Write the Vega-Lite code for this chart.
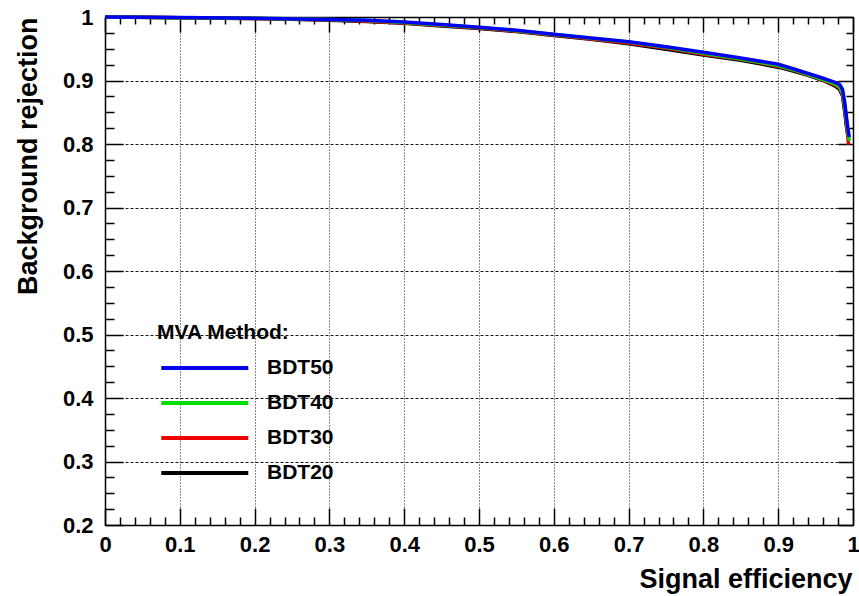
{
  "$schema": "https://vega.github.io/schema/vega-lite/v6.json",
  "width": 748,
  "height": 508,
  "autosize": "none",
  "padding": {"left": 105, "top": 17, "right": 6, "bottom": 71},
  "background": "white",
  "datasets": {
    "roc": [
      {"method": "BDT20", "eff": 0, "rej": 1.0},
      {"method": "BDT20", "eff": 0.05, "rej": 0.9995},
      {"method": "BDT20", "eff": 0.1, "rej": 0.999},
      {"method": "BDT20", "eff": 0.15, "rej": 0.998},
      {"method": "BDT20", "eff": 0.2, "rej": 0.9975},
      {"method": "BDT20", "eff": 0.25, "rej": 0.9965},
      {"method": "BDT20", "eff": 0.3, "rej": 0.995},
      {"method": "BDT20", "eff": 0.35, "rej": 0.993},
      {"method": "BDT20", "eff": 0.4, "rej": 0.99},
      {"method": "BDT20", "eff": 0.45, "rej": 0.986},
      {"method": "BDT20", "eff": 0.5, "rej": 0.982},
      {"method": "BDT20", "eff": 0.55, "rej": 0.977},
      {"method": "BDT20", "eff": 0.6, "rej": 0.971},
      {"method": "BDT20", "eff": 0.65, "rej": 0.965},
      {"method": "BDT20", "eff": 0.7, "rej": 0.958},
      {"method": "BDT20", "eff": 0.75, "rej": 0.949},
      {"method": "BDT20", "eff": 0.8, "rej": 0.94},
      {"method": "BDT20", "eff": 0.85, "rej": 0.932},
      {"method": "BDT20", "eff": 0.9, "rej": 0.921},
      {"method": "BDT20", "eff": 0.92, "rej": 0.915},
      {"method": "BDT20", "eff": 0.94, "rej": 0.908},
      {"method": "BDT20", "eff": 0.96, "rej": 0.9},
      {"method": "BDT20", "eff": 0.975, "rej": 0.892},
      {"method": "BDT20", "eff": 0.982, "rej": 0.886},
      {"method": "BDT20", "eff": 0.986, "rej": 0.876},
      {"method": "BDT20", "eff": 0.989, "rej": 0.85},
      {"method": "BDT20", "eff": 0.991, "rej": 0.83},
      {"method": "BDT20", "eff": 0.993, "rej": 0.815},
      {"method": "BDT20", "eff": 0.994, "rej": 0.808},
      {"method": "BDT30", "eff": 0, "rej": 1.0},
      {"method": "BDT30", "eff": 0.1, "rej": 0.999},
      {"method": "BDT30", "eff": 0.2, "rej": 0.9978},
      {"method": "BDT30", "eff": 0.3, "rej": 0.9955},
      {"method": "BDT30", "eff": 0.35, "rej": 0.9935},
      {"method": "BDT30", "eff": 0.4, "rej": 0.9905},
      {"method": "BDT30", "eff": 0.45, "rej": 0.9865},
      {"method": "BDT30", "eff": 0.5, "rej": 0.9825},
      {"method": "BDT30", "eff": 0.55, "rej": 0.9775},
      {"method": "BDT30", "eff": 0.6, "rej": 0.9715},
      {"method": "BDT30", "eff": 0.65, "rej": 0.9655},
      {"method": "BDT30", "eff": 0.7, "rej": 0.959},
      {"method": "BDT30", "eff": 0.75, "rej": 0.951},
      {"method": "BDT30", "eff": 0.8, "rej": 0.9415},
      {"method": "BDT30", "eff": 0.85, "rej": 0.9335},
      {"method": "BDT30", "eff": 0.9, "rej": 0.9225},
      {"method": "BDT30", "eff": 0.92, "rej": 0.9165},
      {"method": "BDT30", "eff": 0.94, "rej": 0.909},
      {"method": "BDT30", "eff": 0.96, "rej": 0.9005},
      {"method": "BDT30", "eff": 0.975, "rej": 0.8935},
      {"method": "BDT30", "eff": 0.982, "rej": 0.888},
      {"method": "BDT30", "eff": 0.986, "rej": 0.878},
      {"method": "BDT30", "eff": 0.989, "rej": 0.855},
      {"method": "BDT30", "eff": 0.991, "rej": 0.832},
      {"method": "BDT30", "eff": 0.993, "rej": 0.812},
      {"method": "BDT30", "eff": 0.994, "rej": 0.799},
      {"method": "BDT40", "eff": 0, "rej": 1.0},
      {"method": "BDT40", "eff": 0.1, "rej": 0.999},
      {"method": "BDT40", "eff": 0.2, "rej": 0.998},
      {"method": "BDT40", "eff": 0.3, "rej": 0.996},
      {"method": "BDT40", "eff": 0.35, "rej": 0.9945},
      {"method": "BDT40", "eff": 0.4, "rej": 0.9915},
      {"method": "BDT40", "eff": 0.45, "rej": 0.9875},
      {"method": "BDT40", "eff": 0.5, "rej": 0.9835},
      {"method": "BDT40", "eff": 0.55, "rej": 0.9785},
      {"method": "BDT40", "eff": 0.6, "rej": 0.9725},
      {"method": "BDT40", "eff": 0.65, "rej": 0.9665},
      {"method": "BDT40", "eff": 0.7, "rej": 0.9605},
      {"method": "BDT40", "eff": 0.75, "rej": 0.9525},
      {"method": "BDT40", "eff": 0.8, "rej": 0.943},
      {"method": "BDT40", "eff": 0.85, "rej": 0.934},
      {"method": "BDT40", "eff": 0.9, "rej": 0.9235},
      {"method": "BDT40", "eff": 0.92, "rej": 0.917},
      {"method": "BDT40", "eff": 0.94, "rej": 0.9095},
      {"method": "BDT40", "eff": 0.96, "rej": 0.9015},
      {"method": "BDT40", "eff": 0.975, "rej": 0.895},
      {"method": "BDT40", "eff": 0.982, "rej": 0.89},
      {"method": "BDT40", "eff": 0.986, "rej": 0.88},
      {"method": "BDT40", "eff": 0.989, "rej": 0.86},
      {"method": "BDT40", "eff": 0.991, "rej": 0.84},
      {"method": "BDT40", "eff": 0.993, "rej": 0.82},
      {"method": "BDT40", "eff": 0.995, "rej": 0.805},
      {"method": "BDT50", "eff": 0, "rej": 1.0},
      {"method": "BDT50", "eff": 0.1, "rej": 0.9992},
      {"method": "BDT50", "eff": 0.2, "rej": 0.9982},
      {"method": "BDT50", "eff": 0.3, "rej": 0.9962},
      {"method": "BDT50", "eff": 0.35, "rej": 0.995},
      {"method": "BDT50", "eff": 0.4, "rej": 0.992},
      {"method": "BDT50", "eff": 0.45, "rej": 0.988},
      {"method": "BDT50", "eff": 0.5, "rej": 0.984},
      {"method": "BDT50", "eff": 0.55, "rej": 0.979},
      {"method": "BDT50", "eff": 0.6, "rej": 0.973},
      {"method": "BDT50", "eff": 0.65, "rej": 0.967},
      {"method": "BDT50", "eff": 0.7, "rej": 0.961},
      {"method": "BDT50", "eff": 0.75, "rej": 0.953},
      {"method": "BDT50", "eff": 0.8, "rej": 0.9445},
      {"method": "BDT50", "eff": 0.85, "rej": 0.9355},
      {"method": "BDT50", "eff": 0.9, "rej": 0.9255},
      {"method": "BDT50", "eff": 0.92, "rej": 0.9185},
      {"method": "BDT50", "eff": 0.94, "rej": 0.911},
      {"method": "BDT50", "eff": 0.96, "rej": 0.9035},
      {"method": "BDT50", "eff": 0.975, "rej": 0.8975},
      {"method": "BDT50", "eff": 0.982, "rej": 0.894},
      {"method": "BDT50", "eff": 0.986, "rej": 0.886},
      {"method": "BDT50", "eff": 0.989, "rej": 0.865},
      {"method": "BDT50", "eff": 0.991, "rej": 0.845},
      {"method": "BDT50", "eff": 0.993, "rej": 0.826},
      {"method": "BDT50", "eff": 0.995, "rej": 0.811}
    ]
  },
  "data": {"name": "roc"},
  "layer": [
    {
      "mark": {"type": "line", "strokeWidth": 3.5, "clip": false},
      "encoding": {
        "x": {
          "field": "eff", "type": "quantitative",
          "scale": {"domain": [0, 1], "nice": false, "zero": false},
          "axis": {
            "orient": "bottom",
            "values": [0, 0.1, 0.2, 0.3, 0.4, 0.5, 0.6, 0.7, 0.8, 0.9, 1],
            "format": "~g",
            "ticks": false,
            "grid": true, "gridDash": [1, 2], "gridColor": "black", "gridWidth": 1,
            "domain": true, "domainColor": "black", "domainWidth": 1.5,
            "labelFlush": false, "labelPadding": 9,
            "title": "Signal efficiency",
            "titleAnchor": "end", "titleAlign": "right", "titleBaseline": "alphabetic",
            "titleX": 747, "titleY": 62, "titleFontSize": 27
          }
        },
        "y": {
          "field": "rej", "type": "quantitative",
          "scale": {"domain": [0.2, 1], "nice": false, "zero": false},
          "axis": {
            "orient": "left",
            "values": [0.2, 0.3, 0.4, 0.5, 0.6, 0.7, 0.8, 0.9, 1],
            "format": "~g",
            "ticks": false,
            "grid": true, "gridDash": [3, 2], "gridColor": "black", "gridWidth": 1,
            "domain": true, "domainColor": "black", "domainWidth": 1.5,
            "labelFlush": false, "labelPadding": 12,
            "title": "Background rejection",
            "titleAngle": -90, "titleAlign": "right", "titleBaseline": "alphabetic",
            "titleX": -69, "titleY": 0, "titleFontSize": 27
          }
        },
        "color": {
          "field": "method", "type": "nominal",
          "scale": {
            "domain": ["BDT50", "BDT40", "BDT30", "BDT20"],
            "range": ["#0000ee", "#00dd00", "#ee0000", "#000000"]
          },
          "legend": {
            "title": "MVA Method:",
            "orient": "none", "legendX": 52, "legendY": 305,
            "symbolType": "M-0.8,0L7.2,0", "symbolStrokeWidth": 4, "symbolSize": 473,
            "labelFontSize": 21, "titleFontSize": 21,
            "labelFont": "Liberation Sans", "titleFont": "Liberation Sans",
            "labelFontWeight": "bold", "titleFontWeight": "bold",
            "labelColor": "black", "titleColor": "black",
            "titlePadding": 12, "rowPadding": 12, "labelOffset": 84,
            "padding": 0
          }
        }
      }
    },
    {
      "mark": {"type": "point", "opacity": 0},
      "encoding": {
        "x": {"field": "eff", "type": "quantitative",
          "axis": {"orient": "top", "offset": -508, "values": [0, 0.1, 0.2, 0.3, 0.4, 0.5, 0.6, 0.7, 0.8, 0.9, 1],
            "labels": false, "grid": false, "domain": false, "title": null,
            "tickSize": 17, "tickColor": "black", "tickWidth": 1.5}},
        "y": {"field": "rej", "type": "quantitative",
          "axis": {"orient": "right", "offset": -748, "values": [0.2, 0.3, 0.4, 0.5, 0.6, 0.7, 0.8, 0.9, 1],
            "labels": false, "grid": false, "domain": false, "title": null,
            "tickSize": 18, "tickColor": "black", "tickWidth": 1.5}}
      }
    },
    {
      "mark": {"type": "point", "opacity": 0},
      "encoding": {
        "x": {"field": "eff", "type": "quantitative",
          "axis": {"orient": "top", "offset": -508, "values": [0.02, 0.04, 0.06, 0.08, 0.12, 0.14, 0.16, 0.18, 0.22, 0.24, 0.26, 0.28, 0.32, 0.34, 0.36, 0.38, 0.42, 0.44, 0.46, 0.48, 0.52, 0.54, 0.56, 0.58, 0.62, 0.64, 0.66, 0.68, 0.72, 0.74, 0.76, 0.78, 0.82, 0.84, 0.86, 0.88, 0.92, 0.94, 0.96, 0.98],
            "labels": false, "grid": false, "domain": false, "title": null,
            "tickSize": 8, "tickColor": "black", "tickWidth": 1.5}},
        "y": {"field": "rej", "type": "quantitative",
          "axis": {"orient": "right", "offset": -748, "values": [0.225, 0.25, 0.275, 0.325, 0.35, 0.375, 0.425, 0.45, 0.475, 0.525, 0.55, 0.575, 0.625, 0.65, 0.675, 0.725, 0.75, 0.775, 0.825, 0.85, 0.875, 0.925, 0.95, 0.975],
            "labels": false, "grid": false, "domain": false, "title": null,
            "tickSize": 9, "tickColor": "black", "tickWidth": 1.5}}
      }
    },
    {
      "mark": {"type": "point", "opacity": 0},
      "encoding": {
        "x": {"field": "eff", "type": "quantitative",
          "axis": {"orient": "bottom", "offset": -508, "values": [0, 0.1, 0.2, 0.3, 0.4, 0.5, 0.6, 0.7, 0.8, 0.9, 1],
            "labels": false, "grid": false, "domain": true, "domainColor": "black", "domainWidth": 1.5, "title": null,
            "tickSize": 15, "tickColor": "black", "tickWidth": 1.5}},
        "y": {"field": "rej", "type": "quantitative",
          "axis": {"orient": "left", "offset": -748, "values": [0.2, 0.3, 0.4, 0.5, 0.6, 0.7, 0.8, 0.9, 1],
            "labels": false, "grid": false, "domain": true, "domainColor": "black", "domainWidth": 1.5, "title": null,
            "tickSize": 15, "tickColor": "black", "tickWidth": 1.5}}
      }
    },
    {
      "mark": {"type": "point", "opacity": 0},
      "encoding": {
        "x": {"field": "eff", "type": "quantitative",
          "axis": {"orient": "bottom", "offset": -508, "values": [0.02, 0.04, 0.06, 0.08, 0.12, 0.14, 0.16, 0.18, 0.22, 0.24, 0.26, 0.28, 0.32, 0.34, 0.36, 0.38, 0.42, 0.44, 0.46, 0.48, 0.52, 0.54, 0.56, 0.58, 0.62, 0.64, 0.66, 0.68, 0.72, 0.74, 0.76, 0.78, 0.82, 0.84, 0.86, 0.88, 0.92, 0.94, 0.96, 0.98],
            "labels": false, "grid": false, "domain": false, "title": null,
            "tickSize": 7, "tickColor": "black", "tickWidth": 1.5}},
        "y": {"field": "rej", "type": "quantitative",
          "axis": {"orient": "left", "offset": -748, "values": [0.225, 0.25, 0.275, 0.325, 0.35, 0.375, 0.425, 0.45, 0.475, 0.525, 0.55, 0.575, 0.625, 0.65, 0.675, 0.725, 0.75, 0.775, 0.825, 0.85, 0.875, 0.925, 0.95, 0.975],
            "labels": false, "grid": false, "domain": false, "title": null,
            "tickSize": 7, "tickColor": "black", "tickWidth": 1.5}}
      }
    }
  ],
  "resolve": {"axis": {"x": "independent", "y": "independent"}},
  "config": {
    "view": {"stroke": null},
    "font": "Liberation Sans",
    "axis": {
      "labelFont": "Liberation Sans", "labelFontWeight": "bold", "labelFontSize": 22, "labelColor": "black",
      "titleFont": "Liberation Sans", "titleFontWeight": "bold", "titleColor": "black",
      "gridOpacity": 0.9
    }
  }
}
